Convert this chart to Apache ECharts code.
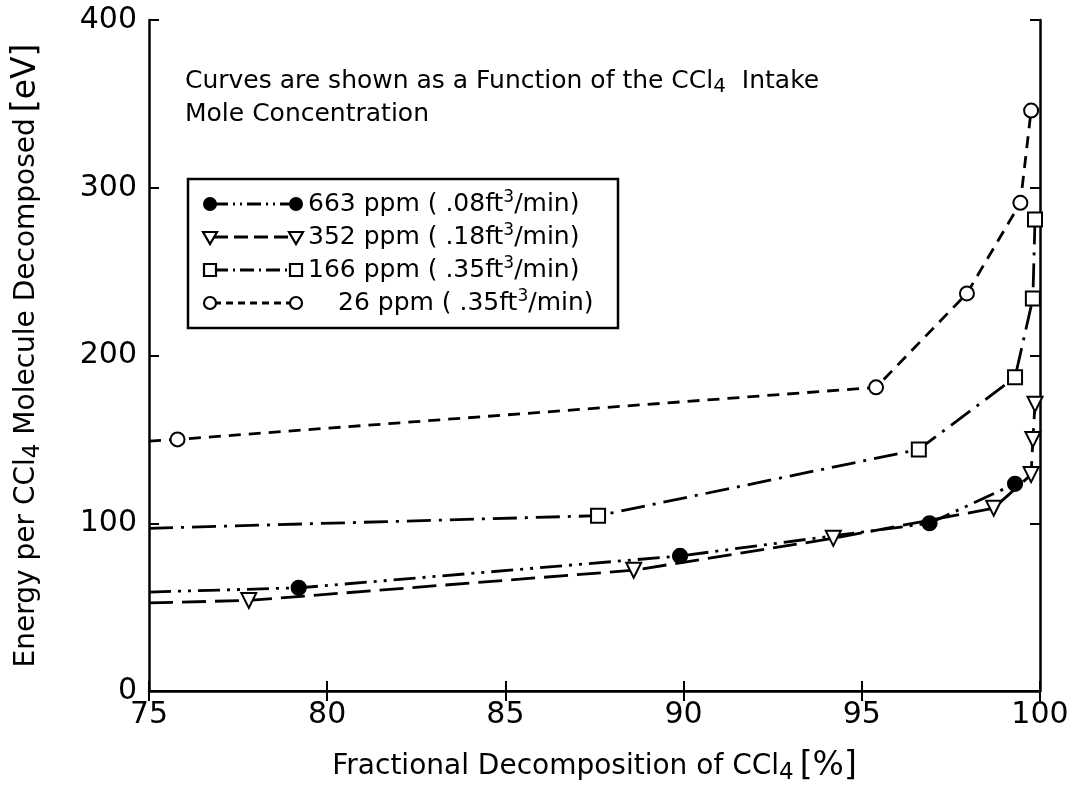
<!DOCTYPE html>
<html>
<head>
<meta charset="utf-8">
<title>CCl4 decomposition energy</title>
<script src="https://cdn.jsdelivr.net/npm/echarts@6.0.0/dist/echarts.min.js"></script>
<style>
html, body { margin: 0; padding: 0; background: #fff; }
#chart-container { width: 1082px; height: 790px; }
</style>
</head>
<body>
<div id="chart-container"></div>
<script>
// values: [fractional decomposition %, energy eV]
// first point of each curve is where the line leaves the left axis (no marker)
var ppm663 = [[75, 59], [79.2, 61.5], [89.9, 80.5], [96.9, 100], [99.3, 123.5]];
var ppm352 = [[75, 52.5], [77.8, 54], [88.6, 72], [94.2, 91], [98.7, 109], [99.75, 129], [99.8, 150], [99.86, 171]];
var ppm166 = [[75, 97], [87.6, 104.5], [96.6, 144], [99.3, 187], [99.8, 234], [99.86, 281]];
var ppm26 = [[75, 149], [75.8, 150], [95.4, 181], [97.95, 237], [99.45, 291], [99.75, 346]];

var seriesNames = ['663 ppm', '352 ppm', '166 ppm', '26 ppm'];
var flowRates = ['.08', '.18', '.35', '.35'];
var xRange = [75, 100, 5];   // min, max, step
var yRange = [0, 400, 100];

var FONT = 'DejaVu Sans';
var chart = echarts.init(document.getElementById('chart-container'));

// line patterns and markers for each curve
var dashes = [[22, 7, 3, 7, 3, 7], [24, 9], [24, 8, 3, 8], [12, 8]];
var symbols = ['circle', 'emptyTriangle', 'emptyRect', 'emptyCircle'];
var allData = [ppm663, ppm352, ppm166, ppm26];

function points(arr) {
    return arr.map(function (p, i) {
        if (i === 0) return { value: p, symbol: 'none' };
        return { value: p };
    });
}

var series = allData.map(function (d, i) {
    return {
        name: seriesNames[i],
        type: 'line',
        data: points(d),
        symbol: symbols[i],
        symbolSize: i === 1 ? 15 : 14,
        symbolRotate: i === 1 ? 180 : 0,
        clip: true,
        lineStyle: { color: '#000', width: 2.8, type: dashes[i] },
        itemStyle: { color: '#000', borderColor: '#000', borderWidth: 2.2 },
        emphasis: { disabled: true },
        z: 3 + i
    };
});

// legend drawn by hand: marker - line - marker, then label
var legendTop = 179, legendRowH = 33, legendX = 188;
var legendItems = [{
    type: 'rect',
    shape: { x: legendX, y: legendTop, width: 430, height: 149 },
    style: { fill: '#fff', stroke: '#000', lineWidth: 2.5 },
    z: 10
}];
function marker(kind, cx, cy) {
    var st = { fill: '#fff', stroke: '#000', lineWidth: 2.2 };
    if (kind === 0) return { type: 'circle', shape: { cx: cx, cy: cy, r: 7 }, style: { fill: '#000' }, z: 12 };
    if (kind === 1) return { type: 'polygon', shape: { points: [[cx - 7, cy - 5], [cx + 7, cy - 5], [cx, cy + 7]] }, style: st, z: 12 };
    if (kind === 2) return { type: 'rect', shape: { x: cx - 6, y: cy - 6, width: 12, height: 12 }, style: st, z: 12 };
    return { type: 'circle', shape: { cx: cx, cy: cy, r: 6 }, style: st, z: 12 };
}
var legendDash = [[14, 5, 2, 5, 2, 5], [14, 6], [14, 5, 2, 5], [7, 5]];
seriesNames.forEach(function (n, i) {
    var cy = legendTop + 25 + i * legendRowH;
    legendItems.push({
        type: 'line',
        shape: { x1: 214, y1: cy, x2: 292, y2: cy },
        style: { stroke: '#000', lineWidth: 2.8, lineDash: legendDash[i] },
        z: 11
    });
    legendItems.push(marker(i, 210, cy));
    legendItems.push(marker(i, 296, cy));
    legendItems.push({
        type: 'text',
        x: i === 3 ? 338 : 308,
        y: cy,
        style: {
            text: n + ' ( ' + flowRates[i] + 'ft{sup|3}/min)',
            font: '25px ' + FONT,
            fill: '#000',
            verticalAlign: 'middle',
            rich: { sup: { fontSize: 17, fontFamily: FONT, padding: [0, 0, 13, 0] } }
        },
        z: 12
    });
});

var titleRich = {
    s: { fontFamily: FONT, fontSize: 23, padding: [14, 0, 0, 0] },
    b: { fontFamily: FONT, fontSize: 33, padding: [0, 0, 0, 6] }
};

var option = {
    animation: false,
    backgroundColor: '#fff',
    grid: { left: 149, right: 42, top: 20, bottom: 99, containLabel: false },
    xAxis: [{
        type: 'value',
        min: xRange[0], max: xRange[1], interval: xRange[2],
        name: 'Fractional Decomposition of CCl{s|4}{b|[%]}',
        nameLocation: 'middle',
        nameGap: 57,
        nameTextStyle: { fontFamily: FONT, fontSize: 28, color: '#000', rich: titleRich },
        axisLine: { lineStyle: { color: '#000', width: 2.5 } },
        axisTick: { inside: true, length: 10, lineStyle: { color: '#000', width: 2 } },
        axisLabel: { fontFamily: FONT, fontSize: 30, color: '#000', margin: 9 },
        splitLine: { show: false }
    }, {
        type: 'value', position: 'top',
        min: xRange[0], max: xRange[1], interval: xRange[2],
        axisLine: { lineStyle: { color: '#000', width: 2 } },
        axisTick: { inside: true, length: 10, lineStyle: { color: '#000', width: 2 } },
        axisLabel: { show: false },
        splitLine: { show: false }
    }],
    yAxis: [{
        type: 'value',
        min: yRange[0], max: yRange[1], interval: yRange[2],
        name: 'Energy per CCl{s|4} Molecule Decomposed{b|[eV]}',
        nameLocation: 'middle',
        nameGap: 104,
        nameTextStyle: { fontFamily: FONT, fontSize: 28, color: '#000', rich: titleRich },
        axisLine: { lineStyle: { color: '#000', width: 2.5 } },
        axisTick: { inside: true, length: 10, lineStyle: { color: '#000', width: 2 } },
        axisLabel: { fontFamily: FONT, fontSize: 30, color: '#000', margin: 12 },
        splitLine: { show: false }
    }, {
        type: 'value', position: 'right',
        min: yRange[0], max: yRange[1], interval: yRange[2],
        axisLine: { lineStyle: { color: '#000', width: 2.5 } },
        axisTick: { inside: true, length: 10, lineStyle: { color: '#000', width: 2 } },
        axisLabel: { show: false },
        splitLine: { show: false }
    }],
    series: series,
    graphic: legendItems.concat([{
        type: 'text',
        x: 185, y: 98,
        style: {
            text: 'Curves are shown as a Function of the CCl{s|4}  Intake\nMole Concentration',
            font: '25px ' + FONT,
            fill: '#000',
            lineHeight: 33,
            verticalAlign: 'middle',
            rich: { s: { fontSize: 20, fontFamily: FONT, padding: [10, 0, 0, 0] } }
        },
        z: 12
    }])
};

chart.setOption(option);
</script>
</body>
</html>
